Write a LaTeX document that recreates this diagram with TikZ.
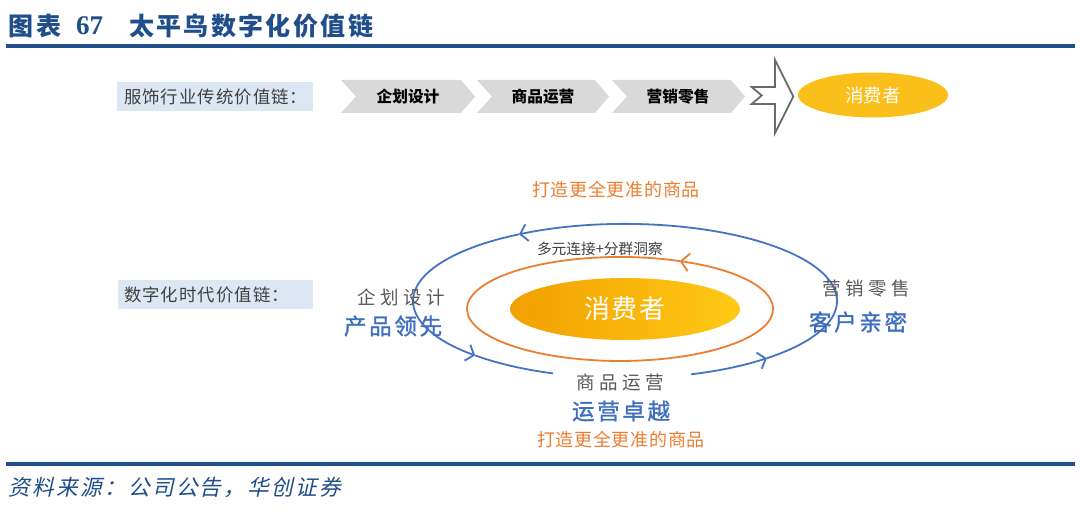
\documentclass[tikz,border=0pt]{standalone}
\usepackage{fontspec}
\setmainfont{Noto Sans CJK SC}
\newfontfamily\numfont{Liberation Serif}
\newfontfamily\srcfont[FakeSlant=0.22]{Noto Sans CJK SC}
\newfontfamily\semibold[FakeBold=1.3]{Noto Sans CJK SC}
\usetikzlibrary{arrows.meta,shapes.geometric}
\definecolor{titleblue}{HTML}{1F4E8A}
\definecolor{boxblue}{HTML}{DDE7F3}
\definecolor{chevgray}{HTML}{D9D9D9}
\definecolor{labgray}{HTML}{404040}
\definecolor{txtgray}{HTML}{595959}
\definecolor{ringblue}{HTML}{4472C4}
\definecolor{txtblue}{HTML}{3F6EC0}
\definecolor{ringorange}{HTML}{ED7D31}
\definecolor{gold}{HTML}{FBBF1B}
\definecolor{goldL}{HTML}{F2A000}
\definecolor{goldR}{HTML}{FFC915}
\definecolor{arrgray}{HTML}{6A6A6A}
\newcommand\fs[2]{\fontsize{#1pt}{#1pt}\selectfont\addfontfeatures{LetterSpace=#2}}
\begin{document}
\begin{tikzpicture}[x=1pt,y=-1pt,
  txt/.style={inner sep=0pt, outer sep=0pt, anchor=west},
  chevbox/.style={fill=chevgray},
  chevtxt/.style={inner sep=0pt, text=black, font=\bfseries\fs{15.7}{0}},
  graytxt/.style={txt, text=txtgray, font=\fs{18.5}{26}},
  bluetxt/.style={txt, text=txtblue, font=\semibold\fs{22.5}{12}},
  orangetxt/.style={txt, text=ringorange, font=\fs{18}{4}},
  bluering/.style={draw=ringblue, line width=1.8pt, -{Straight Barb[length=7pt,width=17pt]}},
  orangering/.style={draw=ringorange, line width=1.8pt, -{Straight Barb[length=8pt,width=18pt]}}
]
\useasboundingbox (0,0) rectangle (1080,519);
\fill[white] (0,0) rectangle (1080,519);

% title
\node[txt, text=titleblue, font=\bfseries\fs{25}{9.6}] (t1) at (9,26) {图表};
\node[txt, text=titleblue, font=\numfont\bfseries\fontsize{27pt}{27pt}\selectfont] (t2) at (76,26) {67};
\node[txt, text=titleblue, font=\bfseries\fs{25}{9.6}] (t3) at (129,26) {太平鸟数字化价值链};
\draw[titleblue, line width=3.5pt] (6,46.2) -- (1075,46.2);

% top row
\fill[boxblue] (117,82) rectangle (313,111);
\node[txt, text=labgray, font=\fs{17.4}{6}] (lab1) at (124,96.5) {服饰行业传统价值链：};

\fill[chevbox] (341,80) -- (461,80) -- (475,96.5) -- (461,113) -- (341,113) -- (356,96.5) -- cycle;
\fill[chevbox] (477,80) -- (595,80) -- (609,96.5) -- (595,113) -- (477,113) -- (492,96.5) -- cycle;
\fill[chevbox] (612,80) -- (731,80) -- (745,96.5) -- (731,113) -- (612,113) -- (627,96.5) -- cycle;
\node[chevtxt] (ch1) at (408,96.5) {企划设计};
\node[chevtxt] (ch2) at (543,96.5) {商品运营};
\node[chevtxt] (ch3) at (678,96.5) {营销零售};

\draw[arrgray, line width=1.8pt, line join=miter] (751.7,87) -- (775,87) -- (775,60) -- (793.3,96.5) -- (775,133) -- (775,104) -- (751.7,104) -- (761.7,95.5) -- cycle;

\node[ellipse, fill=gold, minimum width=150pt, minimum height=45pt, inner sep=0pt, text=white, font=\fs{18.5}{0}] (cons1) at (873,95) {消费者};

% bottom section
\fill[boxblue] (118,280) rectangle (313,309);
\node[txt, text=labgray, font=\fs{17.4}{6}] (lab2) at (124,295) {数字化时代价值链：};

\node[orangetxt] (o1) at (532,190) {打造更全更准的商品};

% blue ring: center (625,301), rx 212, ry 77
\coordinate (b240) at (519,234.3);
\coordinate (b135) at (475.1,355.4);
\coordinate (b48) at (766.9,358.2);
\draw[bluering] (b240) arc[start angle=240, end angle=135, x radius=212, y radius=77];
\draw[bluering] (b135) arc[start angle=135, end angle=48, x radius=212, y radius=77];
\draw[bluering] (b48) arc[start angle=48, end angle=-120, x radius=212, y radius=77];

% orange ring: center (620,309), rx 153, ry 52
\coordinate (o293) at (679.8,261.1);
\draw[orangering] (o293) arc[start angle=293, end angle=-67, x radius=153, y radius=52];

\node[ellipse, left color=goldL, right color=goldR, minimum width=230pt, minimum height=62pt, inner sep=0pt, text=white, font=\fs{26}{4}] (cons2) at (625,309) {消费者};

\node[txt, text=labgray, font=\fs{14.7}{0}] (m1) at (537,249) {多元连接+分群洞察};

\node[graytxt] (l1) at (357,297) {企划设计};
\node[bluetxt] (l2) at (344,326) {产品领先};
\node[graytxt] (r1) at (822,289) {营销零售};
\node[bluetxt] (r2) at (809,322) {客户亲密};

\fill[white] (553,368) rectangle (691,395);
\node[graytxt] (b1) at (576,382) {商品运营};
\node[bluetxt] (b2) at (572,411) {运营卓越};
\node[orangetxt] (b3) at (537,440) {打造更全更准的商品};

% source
\draw[titleblue, line width=4pt] (6,464) -- (1075,464);
\node[txt, text=titleblue, font=\srcfont\fs{21.7}{10}] (src) at (9,488) {资料来源：公司公告，华创证券};
\end{tikzpicture}
\end{document}
